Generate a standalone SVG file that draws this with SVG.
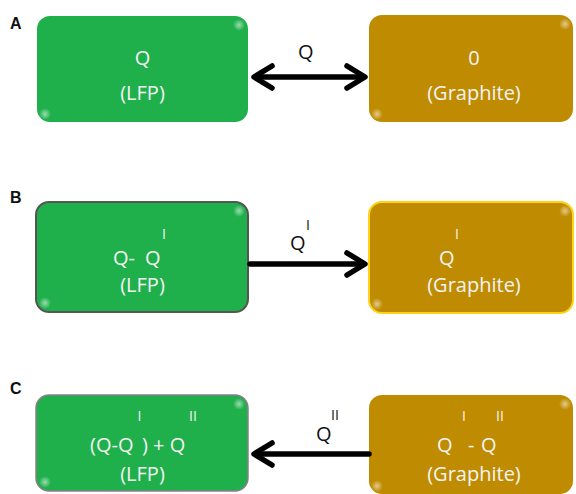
<svg xmlns="http://www.w3.org/2000/svg" width="576" height="494" viewBox="0 0 576 494">
<defs>
<style>
.g{fill:#1fb04c}
.y{fill:#bf8b00}
.t{font-family:"Open Sans","Liberation Sans",sans-serif;font-size:20px;fill:#f4f4f4;text-anchor:middle}
.ts{font-family:"Open Sans","Liberation Sans",sans-serif;font-size:20px;fill:#f4f4f4}
.s{font-family:"Open Sans","Liberation Sans",sans-serif;font-size:14px}
.l{font-family:"Open Sans","Liberation Sans",sans-serif;font-size:20px;fill:#111}
.p{font-family:"Liberation Sans",Arial,sans-serif;font-size:16px;font-weight:bold;fill:#111}
.c{stroke:#000;stroke-width:5.5;fill:none;stroke-linecap:round;stroke-linejoin:round}
.hl{fill:url(#spot)}
</style>
<radialGradient id="spot"><stop offset="0" stop-color="#fff" stop-opacity="0.55"/><stop offset="1" stop-color="#fff" stop-opacity="0"/></radialGradient>
</defs>
<g id="panel-labels">
<text class="p" x="10" y="29">A</text>
<text class="p" x="10" y="203">B</text>
<text class="p" x="10" y="394">C</text>
</g>
<g id="A-LFP">
<rect class="g" x="37" y="16" width="211" height="106" rx="13"/>
<circle class="hl" cx="239" cy="25" r="6"/><circle class="hl" cx="45" cy="114" r="6"/>
<text class="t" x="142.5" y="65">Q</text>
<text class="t" x="142.5" y="100">(LFP)</text>
</g>
<g id="A-Graphite">
<rect class="y" x="369" y="15" width="204" height="107" rx="13"/>
<circle class="hl" cx="565" cy="24" r="6"/><circle class="hl" cx="377" cy="114" r="6"/>
<text class="t" x="474" y="65">0</text>
<text class="t" x="474" y="100">(Graphite)</text>
</g>
<g id="B-LFP">
<rect class="g" x="36" y="202" width="212" height="110" rx="13" stroke="#555" stroke-width="2"/>
<circle class="hl" cx="239" cy="211" r="6"/><circle class="hl" cx="45" cy="303" r="6"/>
<text class="ts" x="113" y="265">Q-</text>
<text class="ts" x="145" y="265">Q</text>
<text class="s" x="162" y="239" fill="#f4f4f4">I</text>
<text class="t" x="142.5" y="292">(LFP)</text>
</g>
<g id="B-Graphite">
<rect class="y" x="369" y="202" width="204" height="111" rx="13" stroke="#ffd21a" stroke-width="2"/>
<circle class="hl" cx="565" cy="211" r="6"/><circle class="hl" cx="377" cy="304" r="6"/>
<text class="ts" x="439" y="265">Q</text>
<text class="s" x="455" y="239" fill="#f4f4f4">I</text>
<text class="t" x="474" y="292">(Graphite)</text>
</g>
<g id="C-LFP">
<rect class="g" x="36" y="395" width="212" height="96" rx="13" stroke="#8c7d8c" stroke-width="1.5"/>
<circle class="hl" cx="239" cy="404" r="6"/><circle class="hl" cx="45" cy="482" r="6"/>
<text class="ts" x="90" y="452">(Q-Q</text>
<text class="s" x="137.5" y="421" fill="#f4f4f4">I</text>
<text class="ts" x="142" y="452">) + Q</text>
<text class="s" x="189" y="421" fill="#f4f4f4">II</text>
<text class="t" x="142.5" y="481">(LFP)</text>
</g>
<g id="C-Graphite">
<rect class="y" x="369" y="395" width="204" height="99" rx="13"/>
<circle class="hl" cx="565" cy="404" r="6"/><circle class="hl" cx="377" cy="486" r="6"/>
<text class="ts" x="437" y="452">Q</text>
<text class="s" x="462" y="421" fill="#f4f4f4">I</text>
<text class="ts" x="468" y="452">-</text>
<text class="ts" x="481" y="452">Q</text>
<text class="s" x="496" y="421" fill="#f4f4f4">II</text>
<text class="t" x="474" y="481">(Graphite)</text>
</g>
<g id="connectors">
<line class="c" x1="256" y1="77" x2="363" y2="77"/>
<polyline class="c" points="272,66 254,77 272,88"/>
<polyline class="c" points="347,66 365,77 347,88"/>
<line class="c" x1="250" y1="264" x2="363" y2="264"/>
<polyline class="c" points="347,253 365,264 347,275"/>
<line class="c" x1="256" y1="454" x2="369" y2="454"/>
<polyline class="c" points="272,443 254,454 272,465"/>
</g>
<g id="connector-labels">
<text class="l" x="298" y="59">Q</text>
<text class="l" x="290" y="250">Q</text>
<text class="s" x="306" y="229.5" fill="#111">I</text>
<text class="l" x="316" y="441">Q</text>
<text class="s" x="331" y="420" fill="#111">II</text>
</g>
</svg>
